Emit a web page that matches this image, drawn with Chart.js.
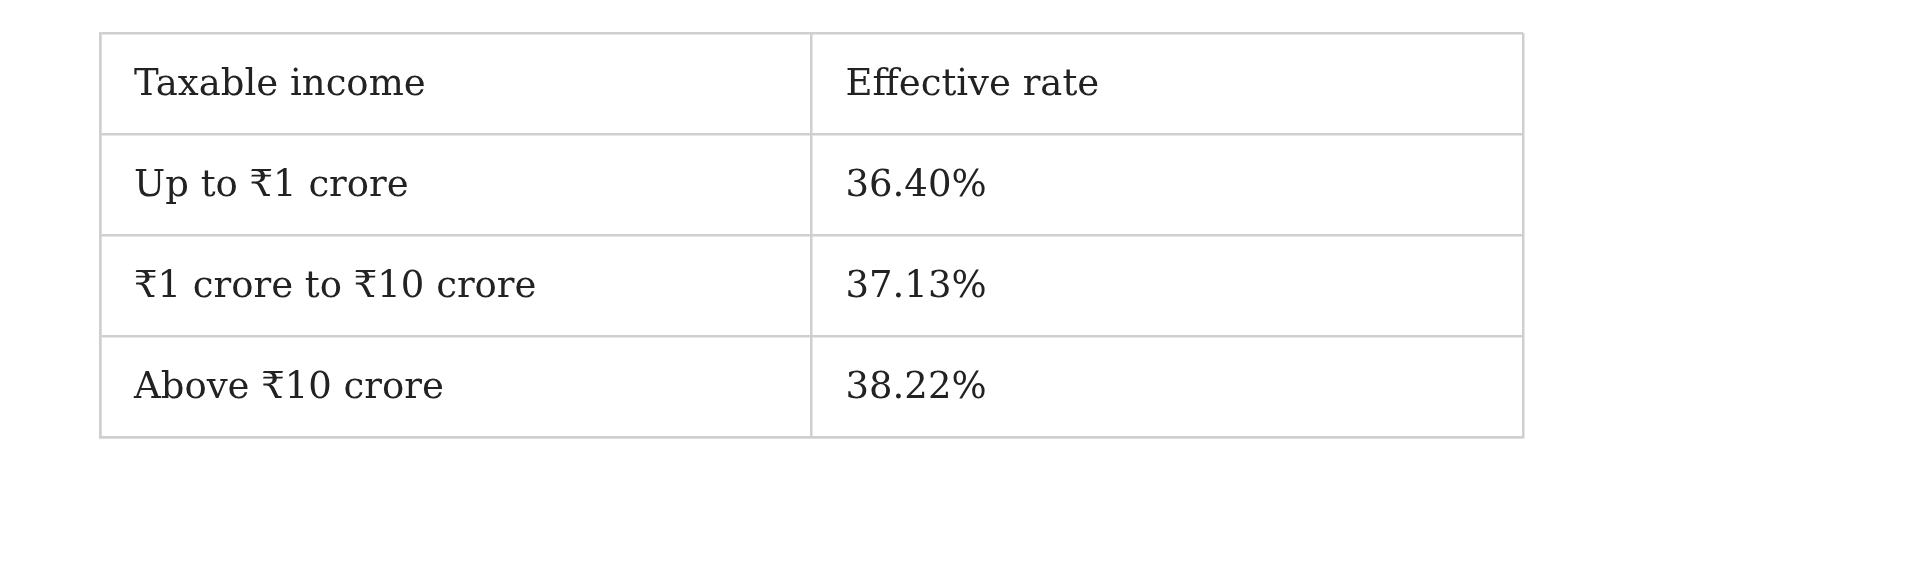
<!DOCTYPE html>
<html>
<head>
<meta charset="utf-8">
<script src="https://cdn.jsdelivr.net/npm/chart.js@4"></script>
<style>
  body { margin: 0; background: #fff; }
  #wrap { width: 1920px; height: 571px; }
</style>
</head>
<body>
<div id="wrap"><canvas id="myChart"></canvas></div>
<script>
// table contents
const headers = ["Taxable income", "Effective rate"];
const incomes = ["Up to ₹1 crore", "₹1 crore to ₹10 crore", "Above ₹10 crore"];
const rates = ["36.40%", "37.13%", "38.22%"];

// draws cell text at positions taken from the chart scales
const tableText = {
    id: 'tableText',
    afterDraw(chart) {
        const ctx = chart.ctx;
        const x = chart.scales.x;
        const y = chart.scales.y;
        const rows = [headers].concat(incomes.map((inc, i) => [inc, rates[i]]));
        ctx.save();
        ctx.fillStyle = '#222';
        ctx.font = '37px "DejaVu Serif", "Liberation Serif", serif';
        ctx.textBaseline = 'middle';
        rows.forEach((row, r) => {
            row.forEach((txt, c) => {
                const px = x.getPixelForValue(c) + 34;
                const py = y.getPixelForValue(r + 0.5) + 2;
                ctx.fillText(txt, px, py);
            });
        });
        ctx.restore();
    }
};

new Chart(document.getElementById('myChart'), {
    type: 'scatter',
    data: { datasets: [{ data: [] }] },
    options: {
        responsive: true,
        maintainAspectRatio: false,
        animation: false,
        layout: { padding: { left: 100, right: 397, top: 33, bottom: 134 } },
        plugins: { legend: { display: false }, tooltip: { enabled: false } },
        scales: {
            x: {
                type: 'linear', min: 0, max: 2,
                ticks: { display: false, stepSize: 1 },
                grid: { color: '#cfcfcf', lineWidth: 2.5, drawTicks: false },
                border: { display: true, color: '#cfcfcf', width: 2.5 }
            },
            y: {
                type: 'linear', min: 0, max: 4, reverse: true,
                ticks: { display: false, stepSize: 1 },
                grid: { color: '#cfcfcf', lineWidth: 2.5, drawTicks: false },
                border: { display: true, color: '#cfcfcf', width: 2.5 }
            }
        }
    },
    plugins: [tableText]
});
</script>
</body>
</html>
